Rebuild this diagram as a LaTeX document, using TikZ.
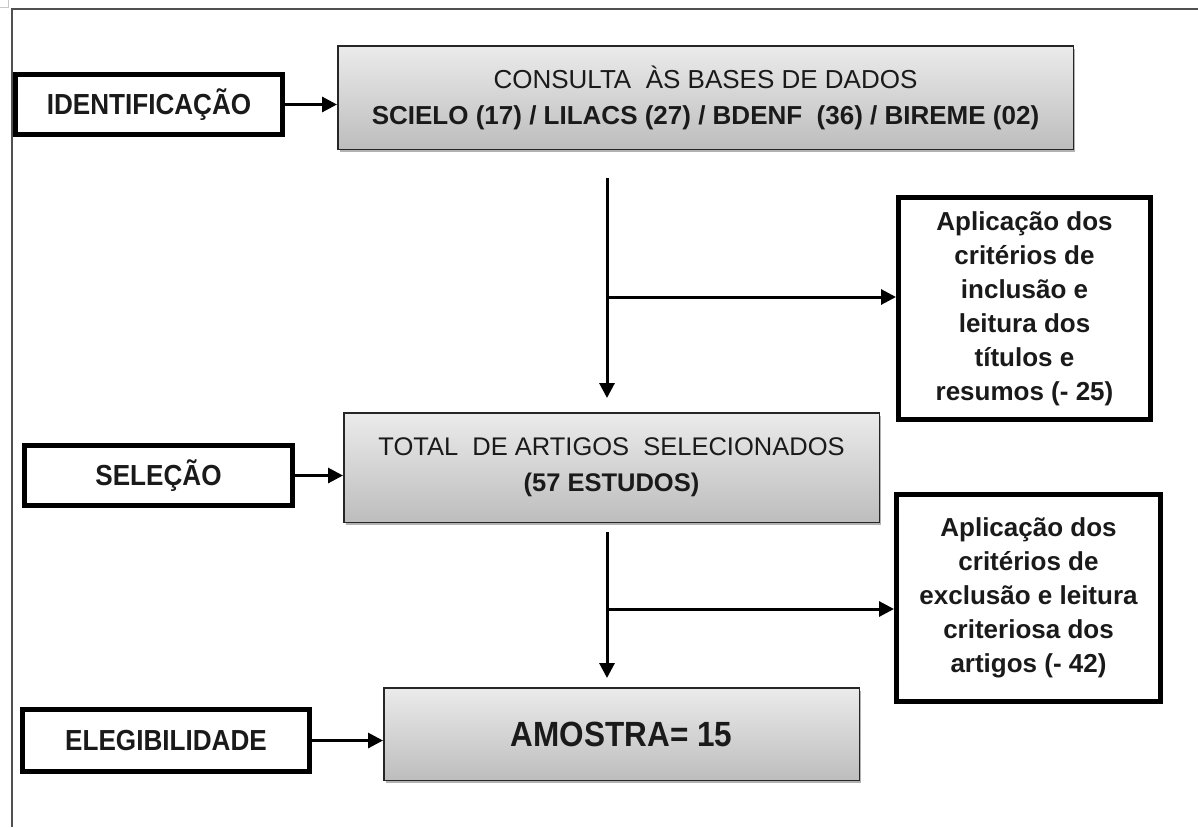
\documentclass[tikz,border=0pt]{standalone}
\usepackage{fontspec}
\setmainfont{Liberation Sans}
\newfontfamily\cfont[FakeStretch=0.9]{Liberation Sans}
\usetikzlibrary{arrows.meta,shadows}
\definecolor{txt}{HTML}{1A1A1A}
\definecolor{gtop}{HTML}{EBEBEB}
\definecolor{gbot}{HTML}{BDBDBD}
\definecolor{framec}{HTML}{505050}
\definecolor{cornerc}{HTML}{C8C8C8}
\tikzset{
  thickbox/.style={draw=black, line width=5pt, fill=white, text=txt, align=center, inner sep=0pt},
  graybox/.style={draw=black!85, line width=1.5pt, top color=gtop, bottom color=gbot, text=txt,
    align=center, inner sep=0pt,
    drop shadow={shadow xshift=2pt, shadow yshift=-3pt, opacity=0.3, fill=black}},
  arr/.style={line width=3pt, draw=black, -{Triangle[length=15pt,width=15pt]}},
  labelfont/.style={font=\cfont\bfseries\fontsize{29}{34}\selectfont},
  sidefont/.style={font=\bfseries\fontsize{26}{34}\selectfont},
}
\begin{document}
\begin{tikzpicture}[x=1pt,y=-1pt]
\useasboundingbox (0,0) rectangle (1198,827);
% frame
\draw[cornerc, line width=1pt] (0,7) -- (8,7) (8,0) -- (8,8);
\draw[framec, line width=1.5pt] (12,827) -- (12,9) -- (1198,9);

% left labels
\node[thickbox, labelfont, minimum width=267pt, minimum height=60pt] (ident) at (149,104.5) {IDENTIFICAÇÃO};
\node[thickbox, labelfont, minimum width=268pt, minimum height=60pt] (sel) at (158.5,475.5) {SELEÇÃO};
\node[thickbox, labelfont, minimum width=287pt, minimum height=62pt] (eleg) at (166,740.5) {ELEGIBILIDADE};

% gray boxes
\node[graybox, font=\fontsize{26}{36}\selectfont, minimum width=735.5pt, minimum height=103.5pt] (consulta) at (705.5,97.5)
  {CONSULTA\ \ ÀS BASES DE DADOS\\
   \textbf{SCIELO (17) / LILACS (27) / BDENF\ \ (36) / BIREME (02)}};
\node[graybox, font=\fontsize{25.5}{36}\selectfont, minimum width=535.5pt, minimum height=109.5pt] (total) at (611.5,467.5)
  {TOTAL\ \ DE ARTIGOS\ \ SELECIONADOS\\
   \textbf{(57 ESTUDOS)}};
\node[graybox, font=\cfont\bfseries\fontsize{35}{40}\selectfont, minimum width=475.5pt, minimum height=92.5pt] (amostra) at (621.5,734)
  {AMOSTRA= 15};

% side boxes
\node[thickbox, sidefont, minimum width=252pt, minimum height=222pt] (inc) at (1024.5,308.5)
  {Aplicação dos\\critérios de\\inclusão e\\leitura dos\\títulos e\\resumos (- 25)};
\node[thickbox, sidefont, minimum width=264pt, minimum height=207pt] (exc) at (1028.5,598)
  {Aplicação dos\\critérios de\\exclusão e leitura\\criteriosa dos\\artigos (- 42)};

% connectors
\coordinate (v1) at (607,178);
\coordinate (b1) at (607,297);
\coordinate (v2) at (607,532);
\coordinate (b2) at (607,609);

\draw[arr] (ident.east) -- (ident.east -| consulta.west);
\draw[arr, shorten >=14pt] (v1) -- (v1 |- total.north);
\draw[arr] (b1) -- (b1 -| inc.west);
\draw[arr] (sel.east) -- (sel.east -| total.west);
\draw[arr, shorten >=9pt] (v2) -- (v2 |- amostra.north);
\draw[arr] (b2) -- (b2 -| exc.west);
\draw[arr] (eleg.east) -- (eleg.east -| amostra.west);
\end{tikzpicture}
\end{document}
